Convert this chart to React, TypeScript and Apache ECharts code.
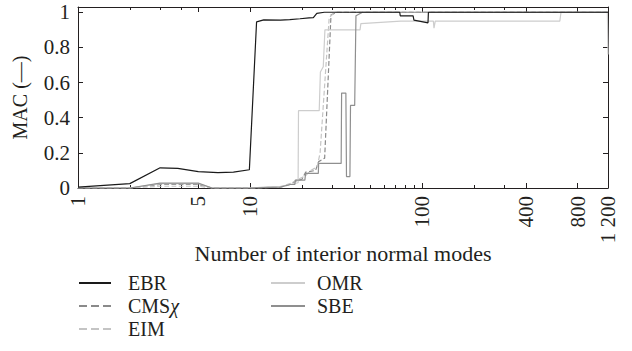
import React, { useEffect, useRef } from "react";
import * as echarts from "echarts";

const FONT = "'Liberation Serif', 'DejaVu Serif', serif";
const INK = "#231f20";

const seriesNames = ["EBR", "CMSχ", "EIM", "OMR", "SBE"];
const xMajorTicks = [1, 5, 10, 100, 400, 800, 1200];
const xMinorTicks = [2, 3, 4, 20, 30, 40, 50, 60, 70, 80, 90, 200, 300];
const yTicks = [0, 0.2, 0.4, 0.6, 0.8, 1];

const ebrN = [1, 2, 3, 3.8, 5, 6.5, 8, 9.9, 10.9, 12, 15, 17, 19.5, 22, 23.3, 24.4, 27, 74, 74.5, 88.5, 89.5, 108, 108.6, 1200];
const ebrV = [0.005, 0.025, 0.115, 0.112, 0.093, 0.087, 0.09, 0.104, 0.945, 0.957, 0.955, 0.958, 0.963, 0.968, 0.97, 0.994, 1.0, 1.0, 0.98, 0.98, 0.955, 0.94, 1.0, 1.0];

const cmsN = [1, 2, 3, 5, 6, 10, 15, 17, 18.5, 20, 21, 24, 25, 27.1, 29.5, 32, 1200];
const cmsV = [0, 0, 0.02, 0.02, 0, 0, 0.005, 0.02, 0.04, 0.05, 0.09, 0.1, 0.15, 0.17, 0.985, 1.0, 1.0];

const eimN = [1, 2, 3, 5, 6, 10, 15, 17.5, 19, 21, 22.5, 24.5, 25.5, 28.8, 31, 1200];
const eimV = [0, 0, 0.01, 0.01, 0, 0, 0.005, 0.03, 0.05, 0.07, 0.1, 0.12, 0.2, 0.97, 1.0, 1.0];

const omrN = [1, 2, 3, 5, 6, 10, 12, 15, 17, 19, 19.1, 25.2, 25.6, 26.6, 27.2, 43.5, 44, 75, 116, 117, 119, 630, 640, 1190, 1200];
const omrV = [0, 0, 0.025, 0.025, 0, 0, 0.005, 0.01, 0.02, 0.03, 0.44, 0.44, 0.66, 0.69, 0.9, 0.9, 0.935, 0.95, 0.95, 0.91, 0.95, 0.95, 1.0, 1.0, 0.76];

const sbeN = [1, 2, 3, 5, 6, 10, 15, 17.1, 18.2, 18.3, 20.8, 21, 24.9, 25, 33.8, 34, 36, 36.3, 38, 38.3, 40.5, 41.2, 45, 1200];
const sbeV = [0, 0, 0.028, 0.028, 0, 0, 0.005, 0.02, 0.02, 0.045, 0.045, 0.083, 0.083, 0.14, 0.14, 0.54, 0.54, 0.065, 0.065, 0.47, 0.47, 0.98, 1.0, 1.0];

const seriesN = [ebrN, cmsN, eimN, omrN, sbeN];
const seriesV = [ebrV, cmsV, eimV, omrV, sbeV];
const seriesColor = ["#1a1a1a", "#8a8a8a", "#c4c4c4", "#cdcdcd", "#8f8f8f"];
const seriesDash = ["solid", "dashed", "dashed", "solid", "solid"];

export default function App() {
  const ref = useRef<HTMLDivElement>(null);

  useEffect(() => {
    document.body.style.margin = "0";
    const chart = echarts.init(ref.current!, undefined, { renderer: "svg" });

    const xBase = {
      type: "log",
      logBase: 10,
      min: 1,
      max: 1200,
      splitLine: { show: false },
      minorTick: { show: false },
      minorSplitLine: { show: false },
    };
    const lineStyle = { color: INK, width: 1 };
    const legendCommon = {
      orient: "vertical",
      top: 273,
      padding: 0,
      itemHeight: 14,
      itemGap: 3,
      itemStyle: { opacity: 0 },
    };

    const option = {
      animation: false,
      grid: { left: 78, right: 24, top: 7, bottom: 163, containLabel: false },
      xAxis: [
        {
          ...xBase,
          position: "bottom",
          axisLine: { show: true, onZero: false, lineStyle },
          axisTick: { show: true, inside: true, length: 5, customValues: xMajorTicks, lineStyle },
          axisLabel: {
            show: true,
            customValues: xMajorTicks,
            rotate: 90,
            margin: 8,
            fontFamily: FONT,
            fontSize: 21,
            color: INK,
            formatter: (v: number) => (Math.round(v) === 1200 ? "1 200" : String(Math.round(v))),
          },
          name: "Number of interior normal modes",
          nameLocation: "middle",
          nameGap: 54,
          nameMoveOverlap: false,
          nameTextStyle: { fontFamily: FONT, fontSize: 22, color: INK },
        },
        {
          ...xBase,
          position: "bottom",
          axisLine: { show: false, onZero: false },
          axisTick: { show: true, inside: true, length: 3, customValues: xMinorTicks, lineStyle },
          axisLabel: { show: false },
        },
        {
          ...xBase,
          position: "top",
          axisLine: { show: true, onZero: false, lineStyle },
          axisTick: { show: true, inside: true, length: 5, customValues: xMajorTicks, lineStyle },
          axisLabel: { show: false },
        },
        {
          ...xBase,
          position: "top",
          axisLine: { show: false, onZero: false },
          axisTick: { show: true, inside: true, length: 3, customValues: xMinorTicks, lineStyle },
          axisLabel: { show: false },
        },
      ],
      yAxis: [
        {
          type: "value",
          min: 0,
          max: 1.03,
          position: "left",
          axisLine: { show: true, onZero: false, lineStyle },
          axisTick: { show: true, inside: true, length: 5, customValues: yTicks, lineStyle },
          axisLabel: { show: true, customValues: yTicks, margin: 8, fontFamily: FONT, fontSize: 21, color: INK },
          splitLine: { show: false },
          name: "MAC (—)",
          nameLocation: "middle",
          nameGap: 48,
          nameMoveOverlap: false,
          nameTextStyle: { fontFamily: FONT, fontSize: 20, color: INK },
        },
        {
          type: "value",
          min: 0,
          max: 1.03,
          position: "right",
          axisLine: { show: true, onZero: false, lineStyle },
          axisTick: { show: true, inside: true, length: 5, customValues: yTicks, lineStyle },
          axisLabel: { show: false },
          splitLine: { show: false },
        },
      ],
      legend: [
        {
          ...legendCommon,
          data: seriesNames.slice(0, 3),
          left: 78,
          itemWidth: 32,
          formatter: (name: string) => (name === "CMSχ" ? "CMS{i|χ}" : name),
          textStyle: {
            fontFamily: FONT,
            fontSize: 20,
            color: INK,
            padding: [0, 0, 0, 12],
            rich: { i: { fontFamily: FONT, fontSize: 20, fontStyle: "italic", color: INK } },
          },
        },
        {
          ...legendCommon,
          data: seriesNames.slice(3),
          left: 270,
          itemWidth: 34,
          textStyle: { fontFamily: FONT, fontSize: 20, color: INK, padding: [0, 0, 0, 7] },
        },
      ],
      series: seriesNames.map((name, i) => ({
        name,
        type: "line",
        xAxisIndex: 0,
        yAxisIndex: 0,
        symbol: "none",
        showSymbol: false,
        data: seriesN[i].map((n, j) => [n, seriesV[i][j]]),
        lineStyle: { color: seriesColor[i], width: 1.2, type: seriesDash[i] },
        itemStyle: { color: seriesColor[i] },
        z: i === 0 ? 5 : 3,
      })),
    };

    chart.setOption(option as any);
    return () => chart.dispose();
  }, []);

  return <div ref={ref} style={{ width: 632, height: 351 }} />;
}
